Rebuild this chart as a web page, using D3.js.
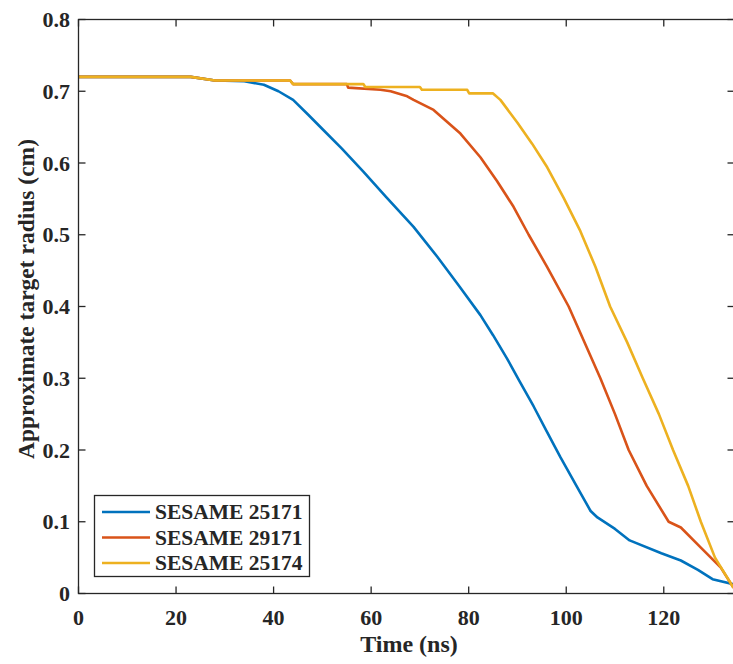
<!DOCTYPE html>
<html>
<head>
<meta charset="utf-8">
<script src="https://cdn.jsdelivr.net/npm/d3@7"></script>
<style>
  html, body { margin: 0; padding: 0; background: #fff; overflow: hidden; }
  svg text { font-family: "Liberation Serif", "Times New Roman", serif; font-weight: bold; fill: #262626; }
</style>
</head>
<body>
<div id="chart"></div>
<script>
// SESAME 25171 (blue)
const t25171 = [0, 23, 28, 34, 38, 41, 44, 47, 50.2, 54, 58.4, 63, 68.7, 73.6, 78, 82.4, 85, 87.9, 90.5, 93.3, 96, 98.8, 102.5, 105, 106.4, 110, 113, 119.5, 123.5, 127, 130, 134.3];
const r25171 = [0.72, 0.72, 0.715, 0.714, 0.709, 0.7, 0.688, 0.668, 0.646, 0.62, 0.588, 0.553, 0.511, 0.469, 0.429, 0.388, 0.36, 0.327, 0.295, 0.261, 0.226, 0.19, 0.145, 0.115, 0.106, 0.09, 0.074, 0.056, 0.046, 0.033, 0.02, 0.013];

// SESAME 29171 (red)
const t29171 = [0, 23, 28, 43.4, 44, 55, 55.3, 61.9, 64, 67.4, 68.7, 72.8, 78.3, 82.4, 85.8, 89.2, 92.3, 96.1, 100.5, 102.9, 107, 110, 112.8, 116.5, 121, 123.5, 127.6, 131.7, 134.3];
const r29171 = [0.72, 0.72, 0.715, 0.715, 0.71, 0.71, 0.705, 0.702, 0.7, 0.693, 0.688, 0.674, 0.641, 0.608, 0.575, 0.539, 0.5, 0.455, 0.4, 0.363, 0.3, 0.25, 0.2, 0.15, 0.1, 0.092, 0.064, 0.036, 0.008];

// SESAME 25174 (yellow)
const t25174 = [0, 23, 28, 43.4, 44, 58.4, 58.8, 70, 70.4, 79.7, 80.1, 85, 86.5, 90, 93, 96.1, 99.5, 102.9, 106, 109, 112.5, 115.7, 119, 121.9, 125, 127.6, 130.5, 134.3];
const r25174 = [0.72, 0.72, 0.715, 0.715, 0.71, 0.71, 0.706, 0.706, 0.702, 0.702, 0.697, 0.697, 0.688, 0.656, 0.627, 0.594, 0.551, 0.505, 0.455, 0.4, 0.35, 0.3, 0.25, 0.2, 0.15, 0.1, 0.05, 0.008];

const seriesNames = ["SESAME 25171", "SESAME 29171", "SESAME 25174"];
const seriesColors = ["#0072BD", "#D95319", "#EDB120"];
const xTicks = [0, 20, 40, 60, 80, 100, 120];
const yTicks = [0, 0.1, 0.2, 0.3, 0.4, 0.5, 0.6, 0.7, 0.8];

const width = 733, height = 664;
const plot = { left: 78.5, right: 734.5, top: 19.5, bottom: 593.5 };

const svg = d3.select("#chart").append("svg")
    .attr("width", width)
    .attr("height", height);

const x = d3.scaleLinear().domain([0, 134.5]).range([plot.left, plot.right]);
const y = d3.scaleLinear().domain([0, 0.8]).range([plot.bottom, plot.top]);

const axisColor = "#262626";
const tickLen = 7;

// series lines
const series = [
    { t: t25171, r: r25171 },
    { t: t29171, r: r29171 },
    { t: t25174, r: r25174 }
];

const line = d3.line().x(d => x(d[0])).y(d => y(d[1]));

const lineGroup = svg.append("g");
series.forEach((s, i) => {
    lineGroup.append("path")
        .datum(s.t.map((tv, k) => [tv, s.r[k]]))
        .attr("d", line)
        .attr("fill", "none")
        .attr("stroke", seriesColors[i])
        .attr("stroke-width", 2.6)
        .attr("stroke-linejoin", "round");
});

// box
svg.append("rect")
    .attr("x", plot.left).attr("y", plot.top)
    .attr("width", plot.right - plot.left)
    .attr("height", plot.bottom - plot.top)
    .attr("fill", "none")
    .attr("stroke", axisColor)
    .attr("stroke-width", 1.3);

// ticks (inward on all four sides)
const ticks = svg.append("g").attr("stroke", axisColor).attr("stroke-width", 1.3);
xTicks.forEach(v => {
    ticks.append("line").attr("x1", x(v)).attr("x2", x(v)).attr("y1", plot.bottom).attr("y2", plot.bottom - tickLen);
    ticks.append("line").attr("x1", x(v)).attr("x2", x(v)).attr("y1", plot.top).attr("y2", plot.top + tickLen);
});
yTicks.forEach(v => {
    ticks.append("line").attr("x1", plot.left).attr("x2", plot.left + tickLen).attr("y1", y(v)).attr("y2", y(v));
    ticks.append("line").attr("x1", plot.right).attr("x2", plot.right - tickLen).attr("y1", y(v)).attr("y2", y(v));
});

// tick labels
svg.append("g").selectAll("text")
    .data(xTicks)
    .enter().append("text")
    .attr("x", d => x(d))
    .attr("y", 625)
    .attr("text-anchor", "middle")
    .style("font-size", "22px")
    .text(d => d);

svg.append("g").selectAll("text")
    .data(yTicks)
    .enter().append("text")
    .attr("x", 70)
    .attr("y", d => y(d) + 7.5)
    .attr("text-anchor", "end")
    .style("font-size", "22px")
    .text(d => d3.format(".1~f")(d));

// axis titles
svg.append("text")
    .attr("x", 409)
    .attr("y", 652)
    .attr("text-anchor", "middle")
    .style("font-size", "24px")
    .text("Time (ns)");

svg.append("text")
    .attr("transform", "translate(34,299) rotate(-90)")
    .attr("text-anchor", "middle")
    .style("font-size", "23.5px")
    .text("Approximate target radius (cm)");

// legend
const legend = svg.append("g");
legend.append("rect")
    .attr("x", 94.5).attr("y", 495.5)
    .attr("width", 215).attr("height", 81)
    .attr("fill", "#fff")
    .attr("stroke", axisColor)
    .attr("stroke-width", 1.3);

seriesNames.forEach((name, i) => {
    const ly = 512 + i * 25.5;
    legend.append("line")
        .attr("x1", 102).attr("x2", 150)
        .attr("y1", ly).attr("y2", ly)
        .attr("stroke", seriesColors[i])
        .attr("stroke-width", 2.6);
    legend.append("text")
        .attr("x", 155)
        .attr("y", ly + 7)
        .style("font-size", "21.5px")
        .text(name);
});
</script>
</body>
</html>
